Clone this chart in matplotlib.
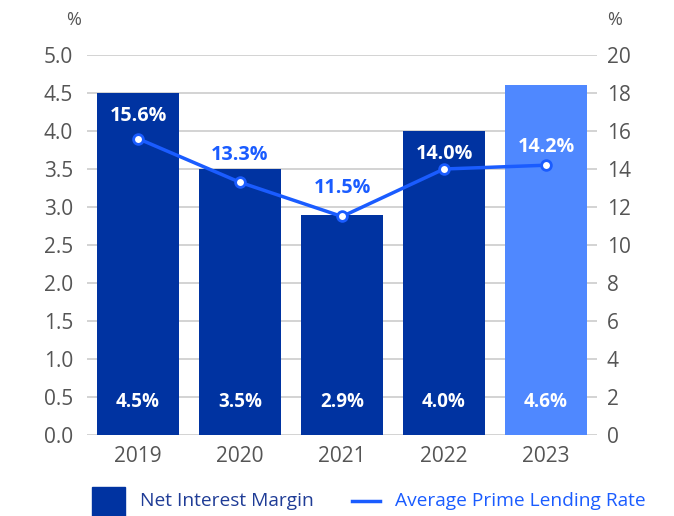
import numpy as np
import matplotlib.pyplot as plt

plt.rcParams['font.family'] = ['Open Sans', 'DejaVu Sans']

years = ['2019', '2020', '2021', '2022', '2023']
nim = [4.5, 3.5, 2.9, 4.0, 4.6]
prime = [15.6, 13.3, 11.5, 14.0, 14.2]
left_ticks = [0.0, 0.5, 1.0, 1.5, 2.0, 2.5, 3.0, 3.5, 4.0, 4.5, 5.0]
right_ticks = [0, 2, 4, 6, 8, 10, 12, 14, 16, 18, 20]

navy = '#0033A1'
light = '#4F88FF'
line_blue = '#1A5CFF'
grey_txt = '#555555'
grid_c = '#d3d3d3'

fig = plt.figure(figsize=(6.74, 5.16), dpi=100)
ax = fig.add_axes([0.1291, 0.157, 0.7567, 0.7364])
x = np.arange(len(years))
bar_colors = [navy] * 4 + [light]
ax.bar(x, nim, width=0.81, color=bar_colors, zorder=2)
ax.set_xlim(-0.5, 4.5)
ax.set_ylim(0, 5.0)
ax.set_yticks(left_ticks)
ax.set_yticklabels([f'{v:.1f}' for v in left_ticks])
ax.yaxis.grid(True, color=grid_c, linewidth=1.4, zorder=0)
ax.set_axisbelow(True)
for s in ax.spines.values():
    s.set_visible(False)
ax.tick_params(axis='y', length=0, pad=10, labelsize=15, labelcolor=grey_txt)
ax.tick_params(axis='x', length=0, pad=8, labelsize=15, labelcolor=grey_txt)
ax.set_xticks(x)
ax.set_xticklabels(years)

# bar value labels near the base
for xi, v in zip(x, nim):
    ax.text(xi, 0.43, f'{v:.1f}%', ha='center', va='center', color='white',
            fontsize=13.5, fontweight='bold', zorder=4)

ax2 = ax.twinx()
ax2.set_ylim(0, 20)
ax2.set_yticks(right_ticks)
for s in ax2.spines.values():
    s.set_visible(False)
ax2.tick_params(axis='y', length=0, pad=7, labelsize=15, labelcolor=grey_txt)
ax2.plot(x, prime, color=line_blue, linewidth=2.5, marker='o', markersize=7,
         markerfacecolor='white', markeredgecolor=line_blue, markeredgewidth=2,
         zorder=3)

# rate labels: white when sitting on top of a bar
inside = [True, False, False, True, True]
lift = [16.5, 20, 20.5, 11, 13]
for xi, v, ins, dy in zip(x, prime, inside, lift):
    ax2.annotate(f'{v:.1f}%', (xi, v), xytext=(0, dy), textcoords='offset points',
                 ha='center', va='center', fontsize=14.2, fontweight='bold',
                 color='white' if ins else line_blue, zorder=4)

fig.text(66 / 674, 1 - 20 / 516, '%', ha='left', va='center', fontsize=13, color=grey_txt)
fig.text(607 / 674, 1 - 20 / 516, '%', ha='left', va='center', fontsize=13, color=grey_txt)

# legend
leg_y = 1 - 501 / 516
fig.patches.append(plt.Rectangle((92 / 674, 0), 33 / 674, 29 / 516,
                                 transform=fig.transFigure, color=navy))
fig.text(140 / 674, leg_y, 'Net Interest Margin', ha='left', va='center',
         fontsize=13.8, color='#1F3C96')
fig.lines.append(plt.Line2D([352 / 674, 380 / 674], [leg_y, leg_y], transform=fig.transFigure,
                            color=line_blue, linewidth=2.5))
fig.text(395 / 674, leg_y, 'Average Prime Lending Rate', ha='left', va='center',
         fontsize=13.8, color=line_blue)

fig.savefig('out.png', dpi=100)
